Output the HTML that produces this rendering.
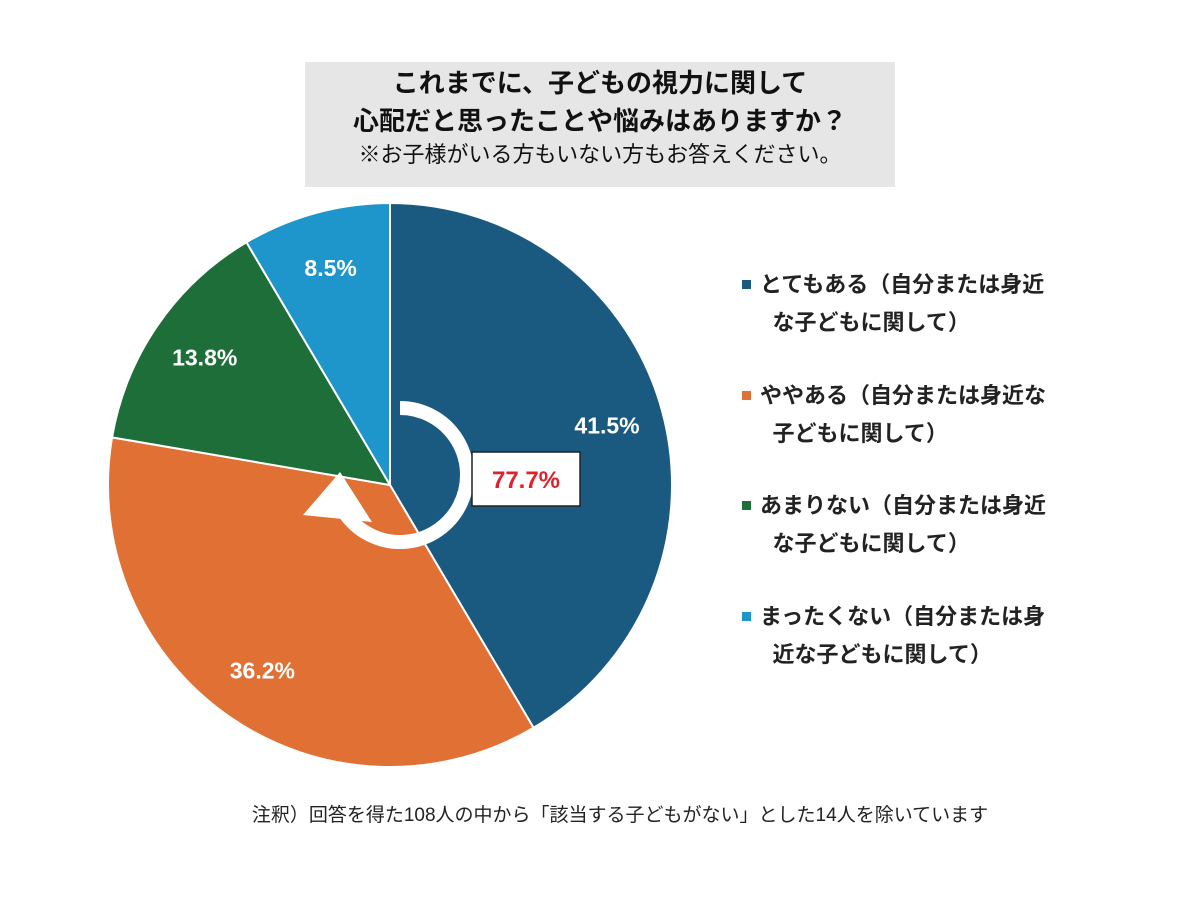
<!DOCTYPE html>
<html><head><meta charset="utf-8"><style>
body{margin:0;width:1200px;height:914px;background:#fff;overflow:hidden;font-family:"Liberation Sans","Noto Sans CJK JP",sans-serif;}
#title{position:absolute;left:305px;top:62px;width:590px;height:125px;background:#e6e6e6;text-align:center;color:#111;}
.t1{font-size:26px;font-weight:bold;line-height:38px;}
.t2{font-size:22px;line-height:30px;}
.leg{position:absolute;left:742px;font-size:22px;line-height:38px;color:#222;width:380px;font-weight:bold;}
.sq{display:inline-block;width:9px;height:9px;margin-right:9px;vertical-align:middle;position:relative;top:-2px}
#note{position:absolute;left:0;width:1240px;top:800px;text-align:center;font-size:19px;color:#222;}
</style></head><body>
<div id="title"><div class="t1" style="padding-top:2px">これまでに、子どもの視力に関して</div><div class="t1">心配だと思ったことや悩みはありますか？</div><div class="t2">※お子様がいる方もいない方もお答えください。</div></div>
<svg id="pie" width="1200" height="914" style="position:absolute;left:0;top:0"></svg>
<div class="leg" style="top:266px"><span class="sq" style="background:#1a5a80"></span>とてもある（自分または身近<br>&nbsp;&nbsp;&nbsp;&nbsp;&nbsp;な子どもに関して）</div>
<div class="leg" style="top:377px"><span class="sq" style="background:#e07034"></span>ややある（自分または身近な<br>&nbsp;&nbsp;&nbsp;&nbsp;&nbsp;子どもに関して）</div>
<div class="leg" style="top:487px"><span class="sq" style="background:#1e6e3a"></span>あまりない（自分または身近<br>&nbsp;&nbsp;&nbsp;&nbsp;&nbsp;な子どもに関して）</div>
<div class="leg" style="top:598px"><span class="sq" style="background:#1e96cc"></span>まったくない（自分または身<br>&nbsp;&nbsp;&nbsp;&nbsp;&nbsp;近な子どもに関して）</div>
<div id="note">注釈）回答を得た108人の中から「該当する子どもがない」とした14人を除いています</div>
<script>
const categories=["とてもある","ややある","あまりない","まったくない"];
const values=[41.5,36.2,13.8,8.5];
const labels=["41.5%","36.2%","13.8%","8.5%"];
const combined="77.7%";
const colors=["#1a5a80","#e07034","#1e6e3a","#1e96cc"];
const cx=390,cy=485,R=282,LR=225;
const svg=document.getElementById('pie');
const NS="http://www.w3.org/2000/svg";
const total=values.reduce((a,b)=>a+b,0);
function pt(a,r){return [cx+r*Math.sin(a),cy-r*Math.cos(a)];}
let acc=0;
values.forEach((v,i)=>{
  const a0=acc/total*2*Math.PI; acc+=v; const a1=acc/total*2*Math.PI;
  const p0=pt(a0,R),p1=pt(a1,R);
  const path=document.createElementNS(NS,'path');
  path.setAttribute('d',`M${cx},${cy}L${p0[0]},${p0[1]}A${R},${R} 0 ${a1-a0>Math.PI?1:0} 1 ${p1[0]},${p1[1]}Z`);
  path.setAttribute('fill',colors[i]);path.setAttribute('stroke','#fff');path.setAttribute('stroke-width','2');
  
  
  svg.appendChild(path);
});
acc=0;
values.forEach((v,i)=>{
  const am=(acc+v/2)/total*2*Math.PI; acc+=v;
  const p=pt(am,LR);
  const t=document.createElementNS(NS,'text');
  t.setAttribute('x',p[0]);t.setAttribute('y',p[1]+8);t.setAttribute('text-anchor','middle');
  t.setAttribute('fill','#fff');t.setAttribute('font-size','23');t.setAttribute('font-weight','bold');
  t.setAttribute('font-family','Liberation Sans, sans-serif');
  t.textContent=labels[i];
  
  
  svg.appendChild(t);
});
// circular arrow
const ax=400,ay=475,ar=67;
const g=document.createElementNS(NS,'g');


const s=[ax,ay-ar],eA=235*Math.PI/180,e=[ax+ar*Math.sin(eA),ay-ar*Math.cos(eA)];
const arc=document.createElementNS(NS,'path');
arc.setAttribute('d',`M${s[0]},${s[1]}A${ar},${ar} 0 1 1 ${e[0]},${e[1]}`);
arc.setAttribute('fill','none');arc.setAttribute('stroke','#fff');arc.setAttribute('stroke-width','14');
g.appendChild(arc);
const head=document.createElementNS(NS,'polygon');
head.setAttribute('points','340,472 303,515 372,522');head.setAttribute('fill','#fff');
g.appendChild(head);svg.appendChild(g);
const box=document.createElementNS(NS,'rect');
box.setAttribute('x',472);box.setAttribute('y',452);box.setAttribute('width',108);box.setAttribute('height',54);
box.setAttribute('fill','#fff');box.setAttribute('stroke','#222');box.setAttribute('stroke-width','1.5');


svg.appendChild(box);
const ct=document.createElementNS(NS,'text');
ct.setAttribute('x',526);ct.setAttribute('y',488);ct.setAttribute('text-anchor','middle');
ct.setAttribute('fill','#e0202a');ct.setAttribute('font-size','24');ct.setAttribute('font-weight','bold');
ct.setAttribute('font-family','Liberation Sans, sans-serif');ct.textContent=combined;


svg.appendChild(ct);
</script>
</body></html>
